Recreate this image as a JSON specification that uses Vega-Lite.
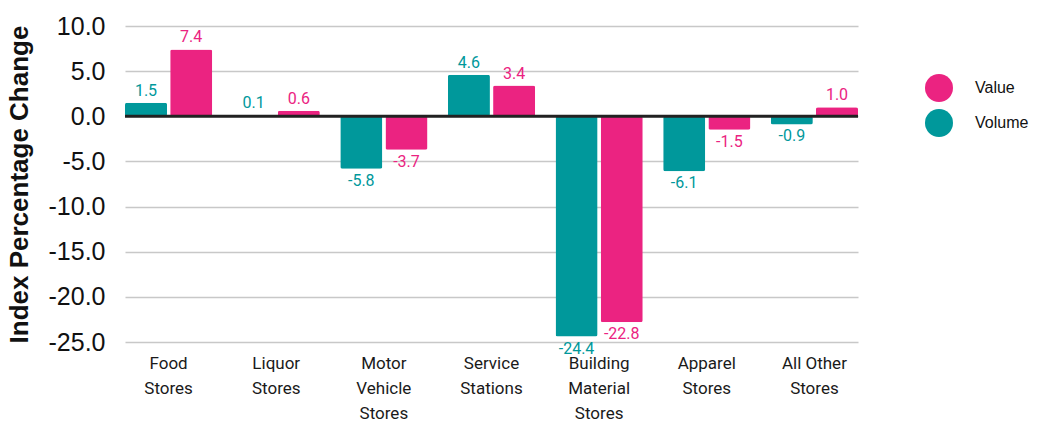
{
  "$schema": "https://vega.github.io/schema/vega-lite/v6.json",
  "autosize": "none",
  "width": 733,
  "height": 316,
  "padding": {"left": 125, "top": 26, "right": 182, "bottom": 79},
  "background": "white",
  "config": {
    "view": {"stroke": null},
    "locale": {
      "number": {"decimal": ".", "thousands": ",", "grouping": [3], "currency": ["$", ""], "minus": "-"}
    }
  },
  "data": {
    "values": [
      {"store": "Food Stores", "measure": "Volume", "change": 1.5},
      {"store": "Food Stores", "measure": "Value", "change": 7.4},
      {"store": "Liquor Stores", "measure": "Volume", "change": 0.1},
      {"store": "Liquor Stores", "measure": "Value", "change": 0.6},
      {"store": "Motor Vehicle Stores", "measure": "Volume", "change": -5.8},
      {"store": "Motor Vehicle Stores", "measure": "Value", "change": -3.7},
      {"store": "Service Stations", "measure": "Volume", "change": 4.6},
      {"store": "Service Stations", "measure": "Value", "change": 3.4},
      {"store": "Building Material Stores", "measure": "Volume", "change": -24.4},
      {"store": "Building Material Stores", "measure": "Value", "change": -22.8},
      {"store": "Apparel Stores", "measure": "Volume", "change": -6.1},
      {"store": "Apparel Stores", "measure": "Value", "change": -1.5},
      {"store": "All Other Stores", "measure": "Volume", "change": -0.9},
      {"store": "All Other Stores", "measure": "Value", "change": 1.0}
    ]
  },
  "encoding": {
    "x": {
      "field": "store",
      "type": "nominal",
      "sort": null,
      "scale": {"paddingInner": 0.19, "paddingOuter": 0},
      "axis": {
        "title": null,
        "domain": false,
        "ticks": false,
        "labelAngle": 0,
        "labelFont": "Roboto",
        "labelFontSize": 17,
        "labelColor": "#1a1a1a",
        "labelLineHeight": 25,
        "labelPadding": 13,
        "labelBaseline": "top",
        "labelExpr": "datum.label == 'All Other Stores' ? ['All Other', 'Stores'] : split(datum.label, ' ')"
      }
    },
    "xOffset": {
      "field": "measure",
      "type": "nominal",
      "sort": ["Volume", "Value"],
      "scale": {"paddingInner": 0.07}
    },
    "y": {
      "field": "change",
      "type": "quantitative",
      "scale": {"domain": [-25, 10], "nice": false, "zero": false},
      "axis": {
        "title": "Index Percentage Change",
        "titleFont": "Liberation Sans",
        "titleFontSize": 26,
        "titleFontWeight": "bold",
        "titleColor": "#111",
        "titlePadding": 16,
        "values": [-25, -20, -15, -10, -5, 0, 5, 10],
        "format": ".1f",
        "domain": false,
        "ticks": false,
        "labelFont": "Liberation Sans",
        "labelFontSize": 25,
        "labelColor": "#111",
        "labelPadding": 20,
        "gridColor": "#c8c8c8",
        "gridWidth": 1.5
      }
    },
    "color": {
      "field": "measure",
      "type": "nominal",
      "scale": {"domain": ["Value", "Volume"], "range": ["#EB2381", "#00989B"]},
      "legend": {
        "title": null,
        "orient": "none",
        "legendX": 800,
        "legendY": 48,
        "symbolType": "circle",
        "symbolSize": 784,
        "symbolStrokeWidth": 0,
        "symbolOpacity": 1,
        "rowPadding": 7,
        "labelFont": "Liberation Sans",
        "labelFontSize": 16,
        "labelColor": "#111",
        "labelOffset": 22
      }
    }
  },
  "layer": [
    {"mark": {"type": "bar", "cornerRadius": 2}},
    {
      "transform": [{"filter": "datum.change >= 0"}],
      "mark": {"type": "text", "baseline": "bottom", "dy": -4, "font": "Roboto", "fontSize": 16},
      "encoding": {"text": {"field": "change", "type": "quantitative", "format": ".1f"}}
    },
    {
      "transform": [{"filter": "datum.change < 0"}],
      "mark": {"type": "text", "baseline": "top", "dy": 4, "font": "Roboto", "fontSize": 16},
      "encoding": {"text": {"field": "change", "type": "quantitative", "format": ".1f"}}
    },
    {
      "data": {"values": [{"zero": 0}]},
      "mark": {"type": "rule", "color": "#222", "strokeWidth": 3},
      "encoding": {
        "x": null,
        "xOffset": null,
        "color": null,
        "y": {"field": "zero", "type": "quantitative"}
      }
    }
  ]
}
